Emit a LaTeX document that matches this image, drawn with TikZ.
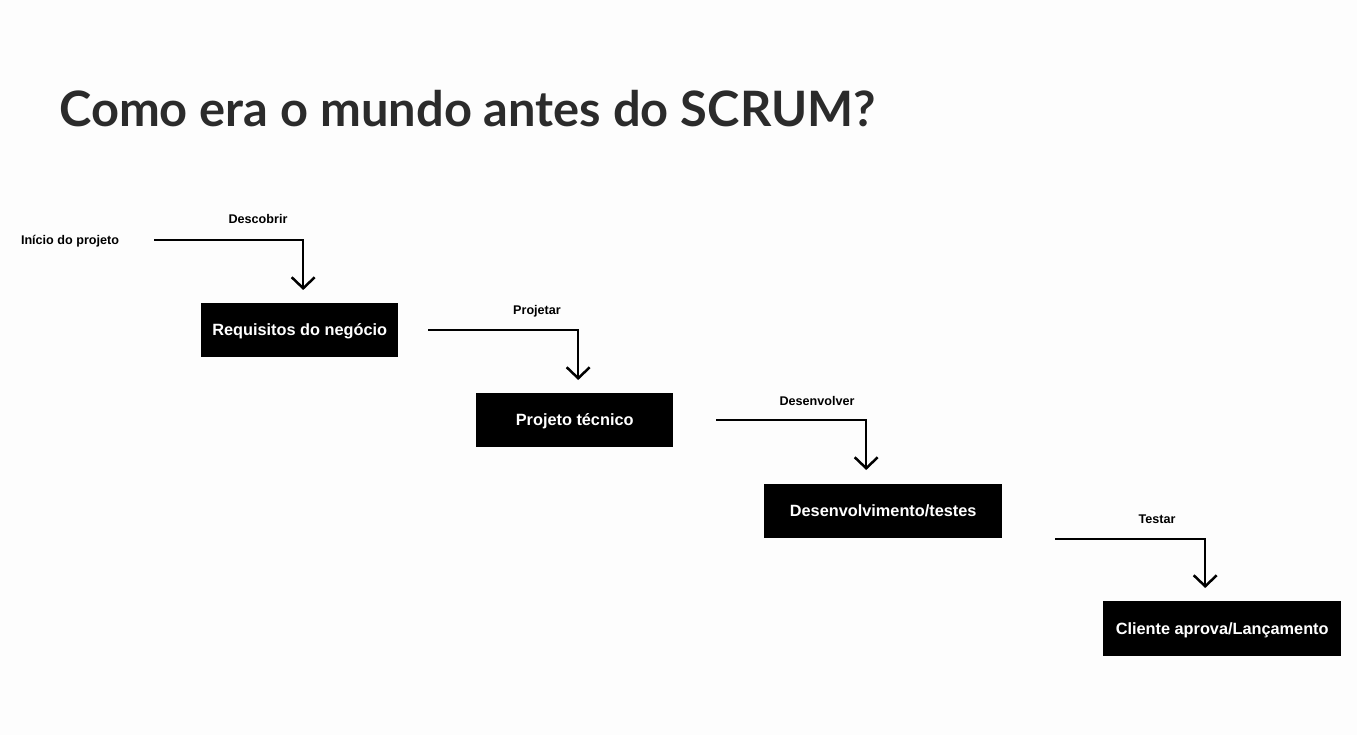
\documentclass[tikz,border=0pt]{standalone}
\usepackage{fontspec}
\setmainfont{Liberation Sans}
\newfontfamily\titlefont{Lato}
\usetikzlibrary{arrows.meta,calc}
\definecolor{bg}{HTML}{FDFDFD}
\definecolor{titlecol}{HTML}{2B2B2B}
\tikzset{
  stage/.style={fill=black, text=white, font=\bfseries\fontsize{16.3}{19}\selectfont, inner sep=0pt, anchor=north west, text depth=1pt},
  lbl/.style={font=\bfseries\fontsize{12.6}{15}\selectfont, text=black, inner sep=0pt},
  flow/.style={line width=2.5pt, -{Straight Barb[length=11pt,width=23pt,line width=2.5pt]}}
}
\begin{document}
\begin{tikzpicture}[x=1pt,y=-1pt]
\fill[bg] (0,0) rectangle (1357,735);
\useasboundingbox (0,0) rectangle (1357,735);
\node[anchor=base west, inner sep=0pt, text=titlecol, font=\titlefont\bfseries\fontsize{48.8}{58}\selectfont] (title) at (59,127) {Como era o mundo antes do SCRUM?};

\node[lbl] (start) at (70,241) {Início do projeto};

\node[stage, minimum width=197pt, minimum height=54pt] (b1) at (201,303) {Requisitos do negócio};
\node[stage, minimum width=197pt, minimum height=54pt] (b2) at (476,393) {Projeto técnico};
\node[stage, minimum width=238pt, minimum height=54pt] (b3) at (764,484) {Desenvolvimento/testes};
\node[stage, minimum width=238pt, minimum height=55pt] (b4) at (1103,601) {Cliente aprova/Lançamento};

\coordinate (s1) at (154,240);
\coordinate (s2) at (428,330);
\coordinate (s3) at (716,420);
\coordinate (s4) at (1055,539);

\draw[flow] (s1) -| ([xshift=3.5pt,yshift=13pt]b1.north);
\draw[flow] (s2) -| ([xshift=3.5pt,yshift=13pt]b2.north);
\draw[flow] (s3) -| ([xshift=-17pt,yshift=14pt]b3.north);
\draw[flow] (s4) -| ([xshift=-17pt,yshift=13pt]b4.north);

\node[lbl] (l1) at (258,219) {Descobrir};
\node[lbl] (l2) at (537,311) {Projetar};
\node[lbl] (l3) at (817,401) {Desenvolver};
\node[lbl] (l4) at (1157,519) {Testar};
\end{tikzpicture}
\end{document}
